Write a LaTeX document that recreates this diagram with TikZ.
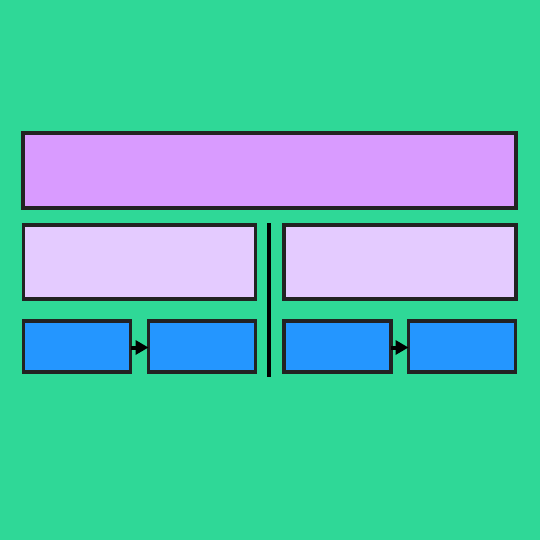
\documentclass[tikz,border=0pt]{standalone}
\usetikzlibrary{arrows.meta}
\definecolor{bg}{HTML}{2FD897}
\definecolor{topc}{HTML}{D99BFF}
\definecolor{midc}{HTML}{E4CBFF}
\definecolor{bluec}{HTML}{2496FF}
\definecolor{edge}{HTML}{222222}
\begin{document}
\begin{tikzpicture}[x=1pt,y=-1pt,
  box/.style={draw=edge,line width=3.8pt,inner sep=0pt,outer sep=0pt},
  topbox/.style={box,fill=topc,minimum width=493pt,minimum height=75pt},
  midbox/.style={box,fill=midc,minimum width=232pt,minimum height=74pt},
  bluebox/.style={box,fill=bluec,minimum width=107pt,minimum height=51pt},
  conn/.style={draw=black,line width=4pt,-{Triangle[length=13pt,width=14pt]}}]
\fill[bg] (0,0) rectangle (540,540);
\useasboundingbox (0,0) rectangle (540,540);
\node[topbox] (top) at (269.5,170.5) {};
\node[midbox] (ml) at (139.5,262) {};
\node[midbox] (mr) at (400,262) {};
\node[bluebox] (b1) at (77,346.5) {};
\node[bluebox] (b2) at (202,346.5) {};
\node[bluebox] (b3) at (337.5,346.5) {};
\node[bluebox] (b4) at (462,346.5) {};
\coordinate (vt) at (269,223);
\coordinate (vb) at (269,377);
\draw[black,line width=3.8pt] (vt) -- (vb);
\draw[conn] ([yshift=-1pt]b1.east) -- ([yshift=-1pt]b2.west);
\draw[conn] ([yshift=-1pt]b3.east) -- ([yshift=-1pt]b4.west);
\end{tikzpicture}
\end{document}
